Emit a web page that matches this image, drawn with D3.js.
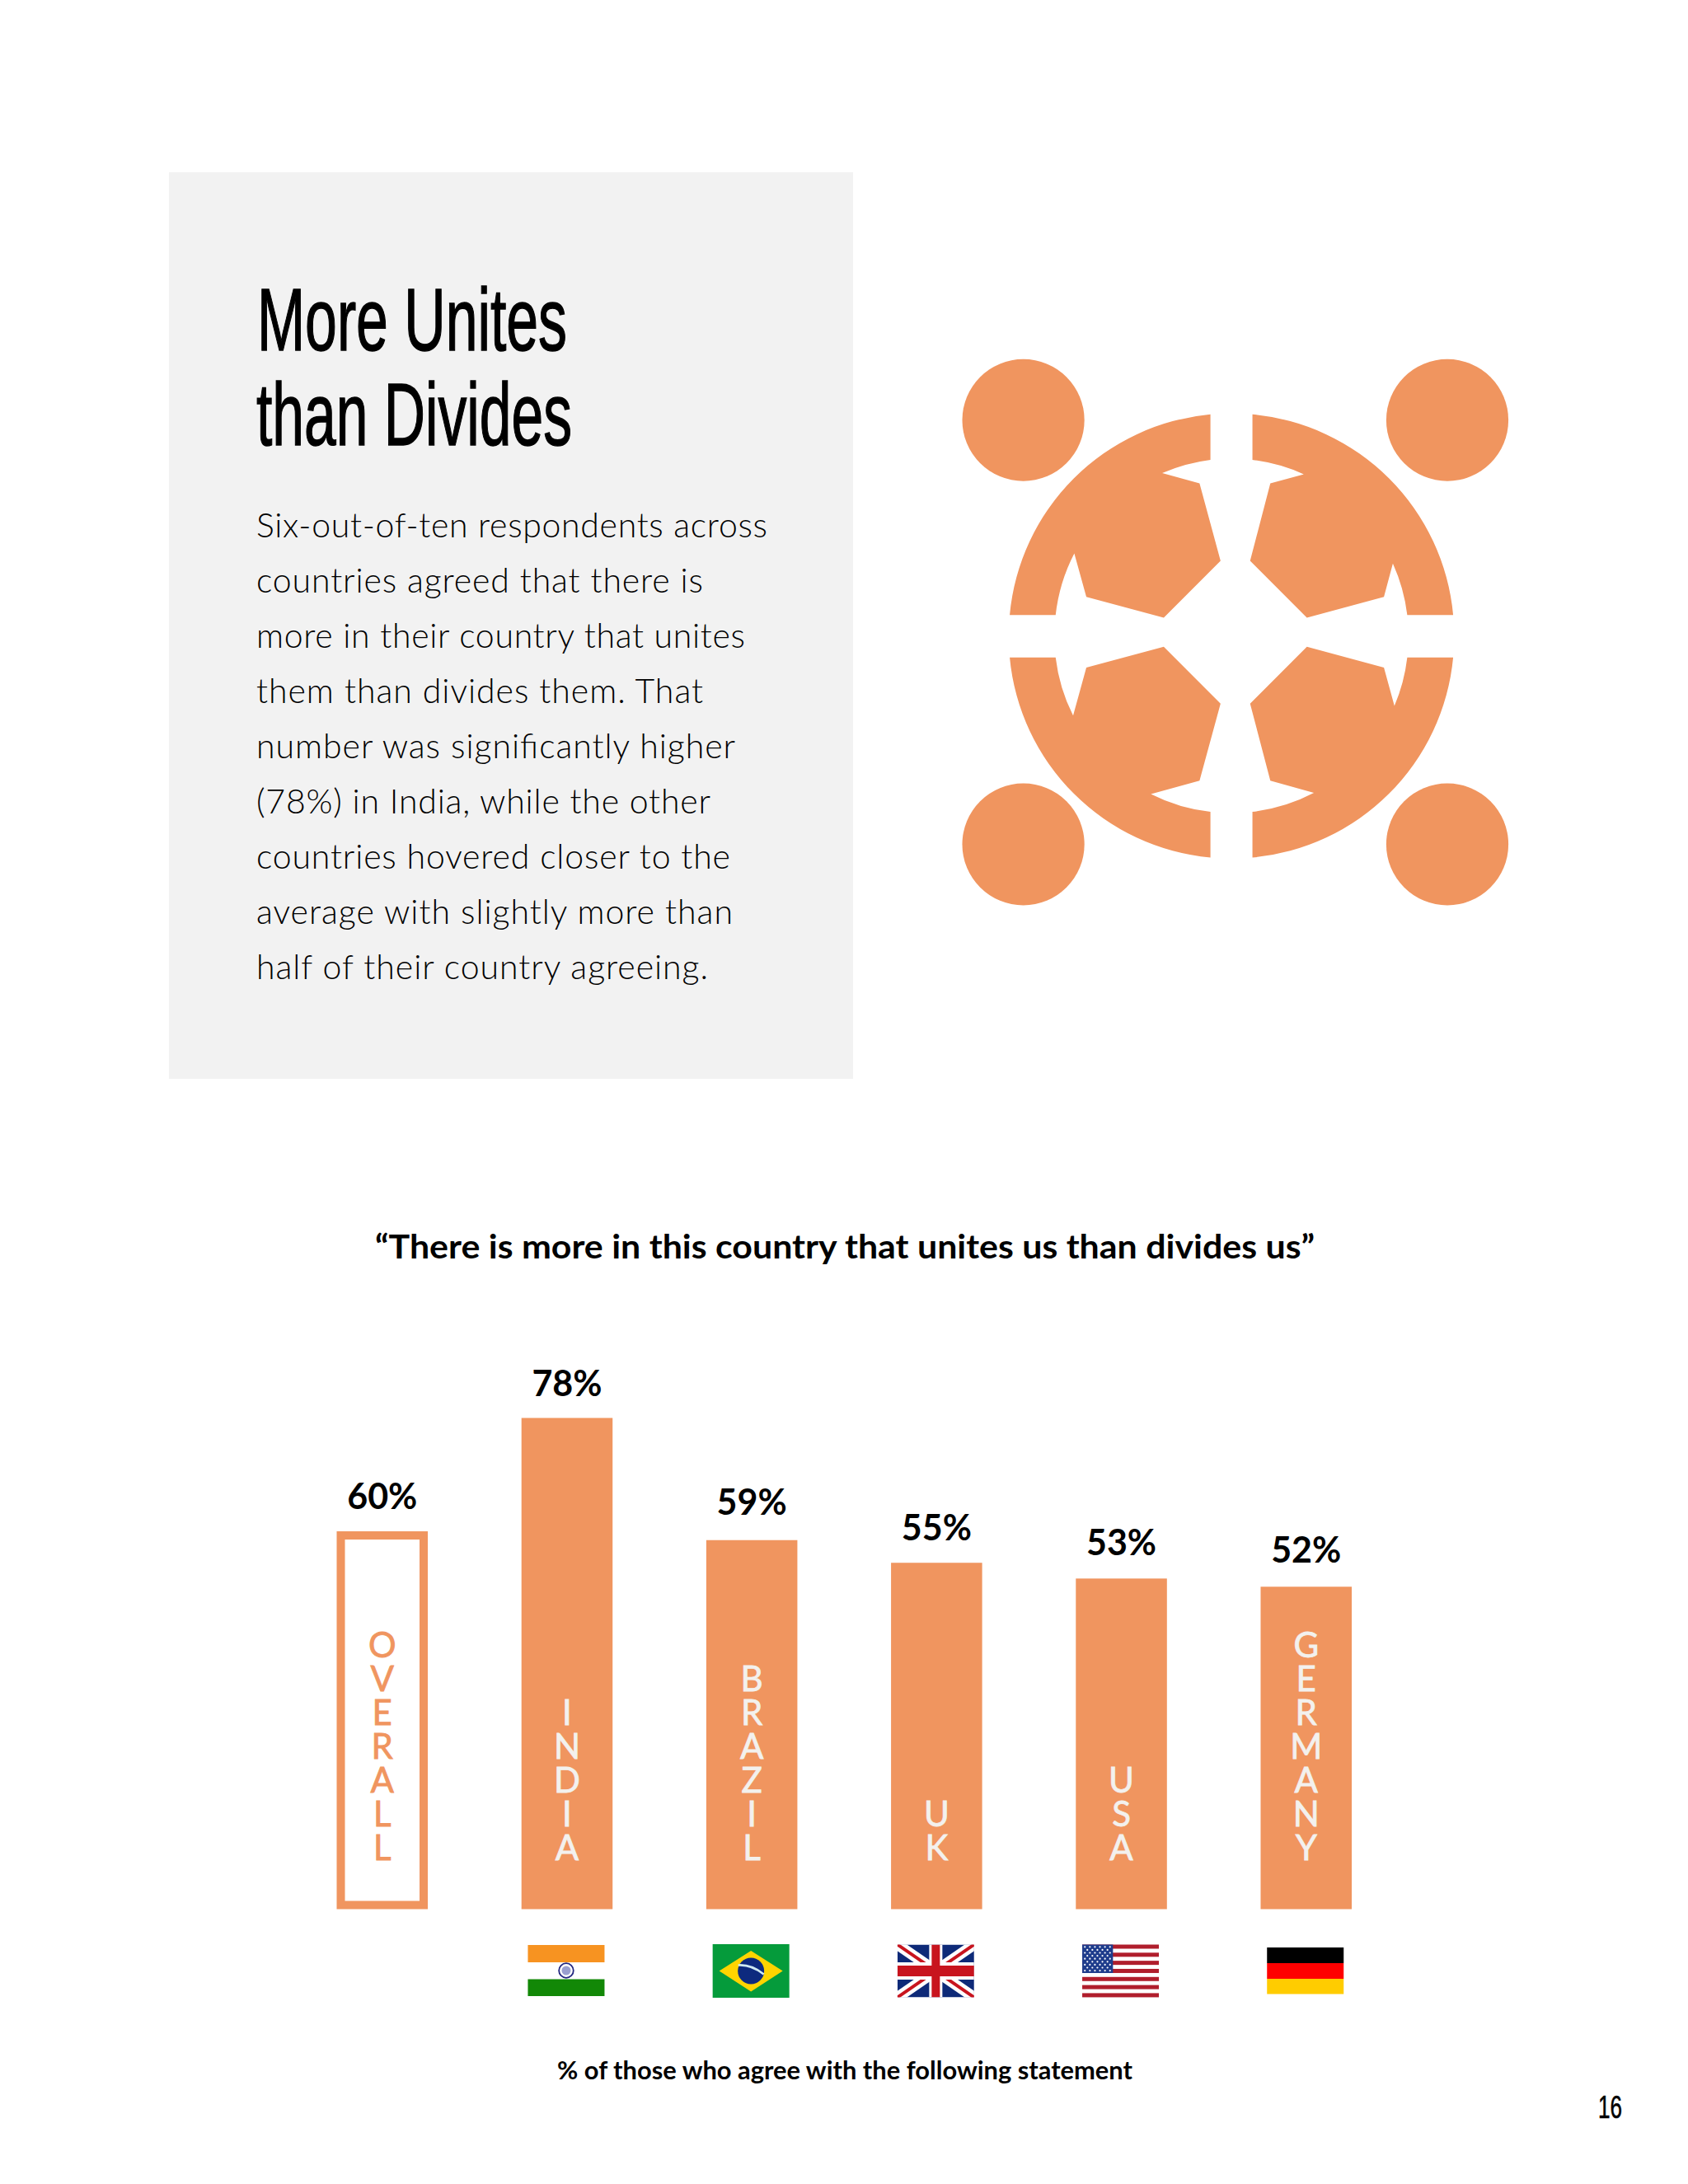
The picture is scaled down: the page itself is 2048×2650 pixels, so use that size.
<!DOCTYPE html>
<html><head><meta charset="utf-8">
<script src="https://cdnjs.cloudflare.com/ajax/libs/d3/7.8.5/d3.min.js"></script>
<style>html,body{margin:0;padding:0;background:#fff}svg{display:block}</style>
</head><body><svg id="c" width="2048" height="2650"></svg>
<script>
// ---- data ----
const categories = ["OVERALL","INDIA","BRAZIL","UK","USA","GERMANY"];
const valueLabels = ["60%","78%","59%","55%","53%","52%"];
// bar lengths (in % units)
const barValues = [60, 78, 58.6, 55, 52.5, 51.2];
const titleLines = ["More Unites","than Divides"];
const bodyLines = [
 "Six-out-of-ten respondents across",
 "countries agreed that there is",
 "more in their country that unites",
 "them than divides them. That",
 "number was significantly higher",
 "(78%) in India, while the other",
 "countries hovered closer to the",
 "average with slightly more than",
 "half of their country agreeing."
];
const chartTitle = "\u201CThere is more in this country that unites us than divides us\u201D";
const footnote = "% of those who agree with the following statement";
const pageNumber = "16";

// ---- style ----
const ORANGE="#F0955F", BODY="'Lato','Noto Sans',sans-serif", COND="'Liberation Sans Narrow','Liberation Sans',sans-serif";
const labelGaps=[27,26.5,31,27,28,29];
const bodyWidths=[620,542,593,542,581,551,575,578,548];
const svg=d3.select("#c");
svg.append("rect").attr("width",2048).attr("height",2650).attr("fill","#fff");

// ---- text panel ----
svg.append("rect").attr("x",205).attr("y",209).attr("width",830).attr("height",1100).attr("fill","#F2F2F2");
svg.selectAll(".t").data(titleLines).join("text").attr("class","t")
  .attr("x",(d,i)=>[312,311][i]).attr("y",(d,i)=>425+i*115)
  .attr("font-family",COND).attr("font-size",107).attr("fill","#000").attr("stroke","#000").attr("stroke-width",1.4)
  .attr("textLength",(d,i)=>[376,383][i]).attr("lengthAdjust","spacingAndGlyphs")
  .text(d=>d);
svg.selectAll(".b").data(bodyLines).join("text").attr("class","b")
  .attr("x",311).attr("y",(d,i)=>652+i*67)
  .attr("font-family",BODY).attr("font-weight",300).attr("font-size",41).attr("fill","#000")
  .attr("textLength",(d,i)=>bodyWidths[i]).attr("lengthAdjust","spacing")
  .text(d=>d);

// ---- icon ----
const icon=svg.append("g").attr("transform",`translate(1100,400) scale(${740/1568},${720/1568})`).attr("fill",ORANGE);
const O="570,586 0 0", I="452,466 0 0";
[
 `M781,224 L781,344 A${I} 0 657,379 L753,406 L807,611 L661,761 L462,706 L431,591 A${I} 0 383,754 L265,754 A${O} 1 781,224 Z`,
 `M889,224 L889,344 A${I} 1 1021,382 L935,406 L883,611 L1029,761 L1227,706 L1250,618 A${I} 1 1287,754 L1405,754 A${O} 0 889,224 Z`,
 `M781,1395 L781,1274 A${I} 1 628,1227 L753,1192 L807,988 L661,838 L462,893 L428,1020 A${I} 1 383,866 L265,866 A${O} 0 781,1395 Z`,
 `M889,1395 L889,1274 A${I} 0 1047,1224 L935,1192 L883,988 L1029,838 L1227,893 L1254,994 A${I} 0 1287,866 L1405,866 A${O} 1 889,1395 Z`
].forEach(d=>icon.append("path").attr("d",d));
[[300,239],[1390,239],[300,1360],[1390,1360]].forEach(c=>icon.append("ellipse").attr("cx",c[0]).attr("cy",c[1]).attr("rx",157).attr("ry",161));

// ---- chart ----
svg.append("text").attr("x",455).attr("y",1527).attr("font-family",BODY).attr("font-weight",700).attr("font-size",41)
  .attr("textLength",1140).attr("lengthAdjust","spacingAndGlyphs").attr("fill","#000").text(chartTitle);

const x=d3.scaleBand().domain(categories).range([408.5,1640]).paddingInner(0.507).paddingOuter(0);
const y=d3.scaleLinear().domain([0,78]).range([2316.5,1720.5]);
const bars=svg.append("g").selectAll("g").data(categories).join("g");
bars.append("rect")
  .attr("x",(d,i)=>x(d)+(i?0:5)).attr("width",(d,i)=>x.bandwidth()-(i?0:10))
  .attr("y",(d,i)=>y(barValues[i])+(i?0:5)).attr("height",(d,i)=>y(0)-y(barValues[i])-(i?0:10))
  .attr("fill",(d,i)=>i?ORANGE:"#fff").attr("stroke",(d,i)=>i?"none":ORANGE).attr("stroke-width",10);
bars.append("text").attr("text-anchor","middle").attr("x",d=>x(d)+x.bandwidth()/2).attr("y",(d,i)=>y(barValues[i])-labelGaps[i])
  .attr("font-family",BODY).attr("font-weight",700).attr("font-size",43).attr("fill","#000").text((d,i)=>valueLabels[i]);
const BASE=2256.5;
bars.append("text").attr("text-anchor","end")
  .attr("x",d=>x(d)+x.bandwidth()/2).attr("y",BASE+0.5)
  .attr("font-family",BODY).attr("font-weight",400).attr("font-size",42)
  .attr("fill",(d,i)=>i?"#F3F1EE":ORANGE).attr("stroke",(d,i)=>i?"#F3F1EE":ORANGE).attr("stroke-width",0.8)
  .style("writing-mode","vertical-rl").style("text-orientation","upright").style("letter-spacing","-9px")
  .text(d=>d);

// ---- flags ----
const FW=93, FH=64, FY=2359.5;
function flag(name){const cx=x(name)+x.bandwidth()/2-1; const g=svg.append("g").attr("transform",`translate(${cx-FW/2},${FY})`); return g;}
function box(g,x0,y0,w,h,c){return g.append("rect").attr("x",x0).attr("y",y0).attr("width",w).attr("height",h).attr("fill",c);}
// India
{const g=flag("INDIA"); box(g,0,0.5,FW,21,"#F79321"); box(g,0,42,FW,20.5,"#128807");
 g.append("circle").attr("cx",FW/2).attr("cy",31.5).attr("r",8.8).attr("fill","#fff").attr("stroke","#22267F").attr("stroke-width",1.8);
 g.append("circle").attr("cx",FW/2).attr("cy",31.5).attr("r",5.5).attr("fill","#9A9FD0");}
// Brazil
{const g=flag("BRAZIL"); box(g,0,-0.5,FW,65,"#059B3B");
 g.append("polygon").attr("points",`8,32 ${FW/2},7.5 85,32 ${FW/2},57`).attr("fill","#FFD400");
 g.append("circle").attr("cx",FW/2).attr("cy",32).attr("r",16).attr("fill","#0D2A7E");
 g.append("path").attr("d",`M31,25 Q47,24 62,36`).attr("fill","none").attr("stroke","#CFEAF2").attr("stroke-width",2.6);}
// UK
{const g=flag("UK"), def=svg.append("defs").append("clipPath").attr("id","uk"); def.append("rect").attr("width",FW).attr("height",FH);
 const k=g.append("g").attr("clip-path","url(#uk)");
 box(k,0,0,FW,FH,"#0E2A78");
 const diag=(c,w)=>{k.append("line").attr("x1",0).attr("y1",0).attr("x2",FW).attr("y2",FH).attr("stroke",c).attr("stroke-width",w);
   k.append("line").attr("x1",FW).attr("y1",0).attr("x2",0).attr("y2",FH).attr("stroke",c).attr("stroke-width",w);};
 diag("#fff",13); diag("#C8141E",4);
 box(k,FW/2-8,0,16,FH,"#fff"); box(k,0,FH/2-10.5,FW,21,"#fff");
 box(k,FW/2-5,0,10,FH,"#C8141E"); box(k,0,FH/2-6.5,FW,13,"#C8141E");}
// USA
{const g=flag("USA"); d3.range(7).forEach(i=>box(g,0,i*9.82,FW,5,"#B01E2C"));
 box(g,0,0,37.3,34.5,"#1E3C8C");
 d3.range(9).forEach(r=>d3.range(r%2?5:6).forEach(c=>g.append("circle").attr("cx",3.2+(r%2?3:0)+c*6.1).attr("cy",2.8+r*3.6).attr("r",1.1).attr("fill","#fff")));}
// Germany
{const g=flag("GERMANY"); box(g,0,3.5,FW,19,"#000"); box(g,0,22.5,FW,19,"#FF0000"); box(g,0,41.5,FW,18.5,"#FFCC00");}

// ---- footer ----
svg.append("text").attr("x",676).attr("y",2523).attr("font-family",BODY).attr("font-weight",700).attr("font-size",30)
  .attr("textLength",698).attr("lengthAdjust","spacingAndGlyphs").attr("fill","#000").text(footnote);
svg.append("text").attr("x",1939).attr("y",2570).attr("font-family",COND).attr("font-size",38).attr("stroke","#000").attr("stroke-width",0.6)
  .attr("textLength",29).attr("lengthAdjust","spacingAndGlyphs").attr("fill","#000").text(pageNumber);
</script></body></html>
